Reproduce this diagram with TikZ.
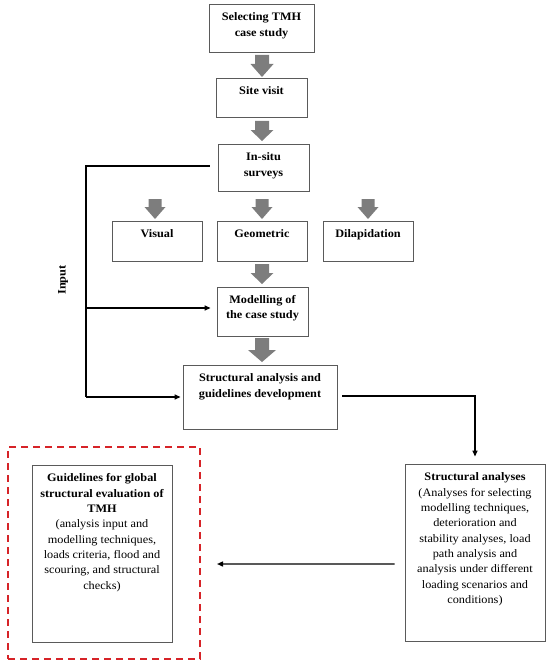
\documentclass[tikz,border=0pt]{standalone}
\usepackage{fontspec}
\setmainfont{Liberation Serif}[FakeStretch=1.07]
\usetikzlibrary{arrows.meta,calc}
\definecolor{boxgrey}{RGB}{90,90,90}
\definecolor{arrgrey}{RGB}{125,125,125}
\definecolor{dashred}{RGB}{214,35,40}
\newcommand{\blockdown}[6]{% cx, top, headstart, tip, shafthalf, headhalf
  \fill[arrgrey] (#1-#5,#2) -- (#1+#5,#2) -- (#1+#5,#3) -- (#1+#6,#3) -- (#1,#4) -- (#1-#6,#3) -- (#1-#5,#3) -- cycle;}
\begin{document}
\begin{tikzpicture}[x=1bp,y=-1bp,
  box/.style={draw=boxgrey, line width=0.9bp, inner sep=0pt},
  txt/.style={anchor=north, align=center, inner sep=0pt, font=\fontsize{11.5}{15.4}\selectfont},
  conn/.style={line width=1.4bp, -{Triangle[length=6bp,width=5bp]}},
  plainline/.style={line width=1.4bp}]
\useasboundingbox (0,0) rectangle (550,666);

% boxes
\node[box, minimum width=105bp, minimum height=48bp] (b1) at (261.5,28) {};
\node[box, minimum width=91bp, minimum height=39bp] (b2) at (261.5,97.5) {};
\node[box, minimum width=91bp, minimum height=47bp] (b3) at (263.5,167.5) {};
\node[box, minimum width=90bp, minimum height=40bp] (vis) at (157,241) {};
\node[box, minimum width=90bp, minimum height=40bp] (geo) at (262,241) {};
\node[box, minimum width=90bp, minimum height=40bp] (dil) at (368,241) {};
\node[box, minimum width=91bp, minimum height=49bp] (mod) at (262.5,311.5) {};
\node[box, minimum width=154bp, minimum height=64bp] (str) at (260,397) {};
\node[box, minimum width=140bp, minimum height=177bp] (sa) at (475,552.5) {};
\node[box, minimum width=140bp, minimum height=177bp] (gl) at (102,553.5) {};
\node[draw=dashred, line width=2bp, dash pattern=on 7bp off 5bp, minimum width=192bp, minimum height=212bp, inner sep=0pt] (red) at (104,553) {};

% texts
\node[txt] (t1) at ($(b1.north)+(0,9)$) {\bfseries Selecting TMH\\\bfseries case study};
\node[txt] (t2) at ($(b2.north)+(0,8.5)$) {\bfseries Site visit};
\node[txt] (t3) at ($(b3.north)+(0,9)$) {\bfseries In-situ\\\bfseries surveys};
\node[txt] (tv) at ($(vis.north)+(0,8.5)$) {\bfseries Visual};
\node[txt] (tg) at ($(geo.north)+(0,8.5)$) {\bfseries Geometric};
\node[txt] (td) at ($(dil.north)+(0,8.5)$) {\bfseries Dilapidation};
\node[txt] (tm) at ($(mod.north)+(0,8.5)$) {\bfseries Modelling of\\\bfseries the case study};
\node[txt] (ts) at ($(str.north)+(0,9)$) {\bfseries Structural analysis and\\\bfseries guidelines development};
\node[txt] (tsa) at ($(sa.north)+(0,9)$) {\bfseries Structural analyses\\(Analyses for selecting\\modelling techniques,\\deterioration and\\stability analyses, load\\path analysis and\\analysis under different\\loading scenarios and\\conditions)};
\node[txt] (tgl) at ($(gl.north)+(0,9)$) {\bfseries Guidelines for global\\\bfseries structural evaluation of\\\bfseries TMH\\(analysis input and\\modelling techniques,\\loads criteria, flood and\\scouring, and structural\\checks)};
\node[rotate=90, font=\fontsize{11.5}{13}\selectfont\bfseries, inner sep=0pt] (inp) at (63,280) {Input};

% block arrows
\blockdown{262}{55}{64}{77}{7}{11.5}
\blockdown{262}{121}{130}{141}{7}{11.5}
\blockdown{155}{199}{207}{219}{6.5}{10.5}
\blockdown{262}{199}{207}{219}{6.5}{10.5}
\blockdown{368}{199}{207}{219}{6.5}{10.5}
\blockdown{262}{264}{273}{284}{7}{11.5}
\blockdown{262}{338}{350}{362}{7}{14}

% connectors
\coordinate (ltop) at (86,166);
\coordinate (lbot) at (86,397);
\coordinate (lmid) at (86,308);
\coordinate (rcorner) at (475,396);
\draw[plainline] ($(b3.west)+(-8,-1.5)$) -- (ltop) -- (lbot);
\draw[conn, shorten >=2bp] (lbot) -- (lbot -| str.west);
\draw[conn, shorten >=6bp] (lmid) -- (lmid -| mod.west);
\draw[conn, shorten >=7bp] ($(str.east)+(5,-1)$) -- (rcorner) -- (sa.north);
\draw[conn, shorten <=10bp, shorten >=16bp] ($(sa.west)+(0,11.5)$) -- ($(red.east)+(0,11)$);
\end{tikzpicture}
\end{document}
